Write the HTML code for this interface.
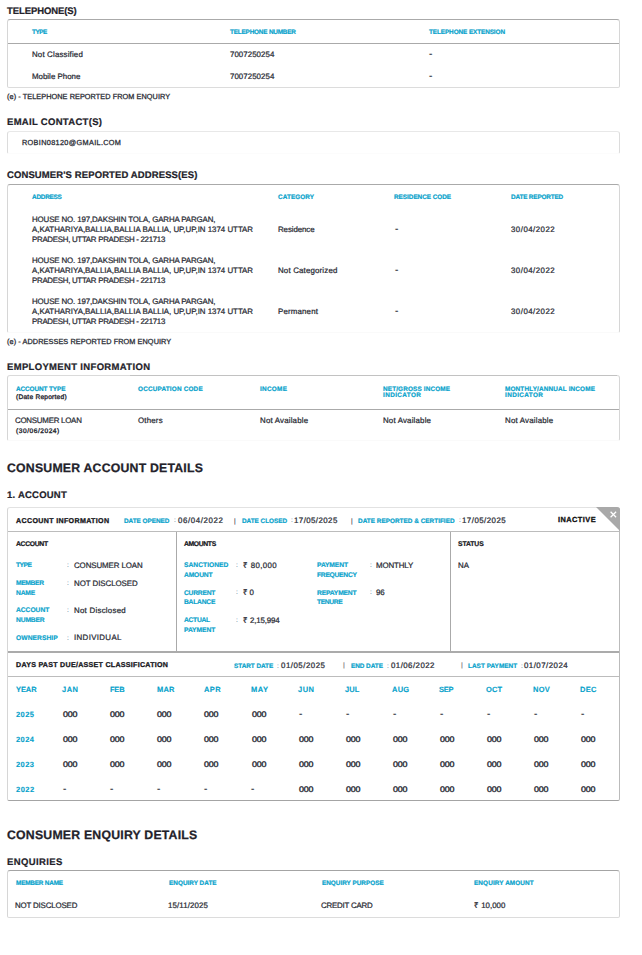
<!DOCTYPE html>
<html lang="en"><head><meta charset="utf-8"><title>Credit Report</title>
<style>
html,body{margin:0;padding:0;background:#fff}
body{width:642px;height:955px;position:relative;overflow:hidden;font-family:"Liberation Sans", sans-serif}
.t{position:absolute;white-space:pre;height:12px;line-height:12px;margin:0;transform:skewX(.04deg)}
.bx{position:absolute;box-sizing:border-box;border-radius:3px 3px 2px 2px;border:1px solid #d6d6d6}
.hl{position:absolute;height:1px}
.vl{position:absolute;width:1px}
.h1{font-size:12.3px;font-weight:700;color:#23222a;-webkit-text-stroke:0.25px #23222a}
.h2{font-size:9.5px;font-weight:700;color:#23222a;-webkit-text-stroke:0.22px #23222a}
.th{font-size:6.4px;font-weight:700;color:#07a2cb;-webkit-text-stroke:0.2px #07a2cb}
.td{font-size:7.9px;font-weight:400;color:#2a2c35;-webkit-text-stroke:0.24px #2a2c35}
.sm{font-size:6.6px;font-weight:400;color:#2a2c35;-webkit-text-stroke:0.35px #2a2c35}
.nt{font-size:7.3px;font-weight:400;color:#2a2c35;-webkit-text-stroke:0.28px #2a2c35}
.bk{font-size:7.1px;font-weight:700;color:#15151a;-webkit-text-stroke:0.28px #15151a}
.bs{font-size:6.8px;font-weight:700;color:#15151a;-webkit-text-stroke:0.22px #15151a}
.lb{font-size:6.7px;font-weight:700;color:#07a2cb;-webkit-text-stroke:0.18px #07a2cb}
.cl{font-size:6.6px;font-weight:400;color:#6f93a5;-webkit-text-stroke:0.12px #6f93a5}
.ds{font-size:10.0px;font-weight:700;color:#2a2c35}
.dt{font-size:10.0px;font-weight:400;color:#2a2c35;-webkit-text-stroke:0.2px #2a2c35}
.bg{font-size:6.5px;font-weight:700;color:#8c8c8c;-webkit-text-stroke:0.1px #8c8c8c}
.br{font-size:6.5px;font-weight:400;color:#333;-webkit-text-stroke:0.1px #333}
.mh{font-size:7.5px;font-weight:700;color:#07a2cb;-webkit-text-stroke:0.12px #07a2cb}
.gv{font-size:8.1px;font-weight:400;color:#2a2c35;-webkit-text-stroke:0.38px #2a2c35;transform-origin:0 50%;transform:skewX(.04deg) scaleX(1.1)}
.ia{font-size:7.4px;font-weight:700;color:#111;-webkit-text-stroke:0.3px #111}
</style></head><body>
<div class="bx" style="left:7px;top:19px;width:613px;height:69px;border-top-color:#aaa;border-bottom-color:#dcdcdc"></div>
<div class="hl" style="left:8px;top:43px;width:611px;background:#aaa"></div>
<div class="bx" style="left:7px;top:131px;width:613px;height:23px;border-color:#e8e8e8 #dcdcdc #fcfcfc #dcdcdc"></div>
<div class="bx" style="left:7px;top:184px;width:613px;height:149px;border-top-color:#aaa;border-bottom-color:#fafafa"></div>
<div class="bx" style="left:7px;top:375px;width:613px;height:66px;border-top-color:#dadada;border-bottom-color:#fafafa"></div>
<div class="hl" style="left:130px;top:375px;width:487px;background:#c2c2c2"></div>
<div class="hl" style="left:8px;top:409px;width:611px;background:#aaa"></div>
<div class="bx" style="left:7px;top:507px;width:613px;height:294px;border-top-color:#e2e2e2;border-bottom-color:#a4a4a4;border-right-color:#bbb"></div>
<div class="hl" style="left:8px;top:531px;width:611px;background:#bcbcbc"></div>
<div class="hl" style="left:8px;top:651px;width:611px;height:2px;background:#ababab"></div>
<div class="hl" style="left:8px;top:676px;width:611px;background:#bcbcbc"></div>
<div class="vl" style="left:176px;top:532px;height:119px;background:#aaa"></div>
<div class="vl" style="left:450px;top:532px;height:119px;background:#aaa"></div>
<svg style="position:absolute;left:596px;top:507px" width="24" height="24" viewBox="0 0 24 24"><path d="M0 0H21Q24 0 24 3V24Z" fill="#a9a9a9"/><path d="M14.6 4.8l5.5 5.5M20.1 4.8l-5.5 5.5" stroke="#fff" stroke-width="1.25" fill="none"/></svg>
<div class="bx" style="left:7px;top:870px;width:613px;height:48px;border-top-color:#a4a4a4;border-bottom-color:#dcdcdc"></div>
<span class="t h2" style="left:6.68px;top:5px;letter-spacing:-0.098px">TELEPHONE(S)</span>
<span class="t th" style="left:31.78px;top:26px;letter-spacing:-0.472px">TYPE</span>
<span class="t th" style="left:230.48px;top:26px;letter-spacing:-0.194px">TELEPHONE NUMBER</span>
<span class="t th" style="left:428.88px;top:26px;letter-spacing:-0.096px">TELEPHONE EXTENSION</span>
<span class="t td" style="left:31.69px;top:49px;letter-spacing:0.161px">Not Classified</span>
<span class="t td" style="left:230.09px;top:49px;letter-spacing:0.047px">7007250254</span>
<span class="t dt" style="left:429.46px;top:48px">-</span>
<span class="t td" style="left:31.69px;top:71px;letter-spacing:0.005px">Mobile Phone</span>
<span class="t td" style="left:230.09px;top:71px;letter-spacing:0.047px">7007250254</span>
<span class="t dt" style="left:429.46px;top:70px">-</span>
<span class="t nt" style="left:6.83px;top:91px;letter-spacing:0.071px">(e) - TELEPHONE REPORTED FROM ENQUIRY</span>
<span class="t h2" style="left:6.68px;top:116px;letter-spacing:0.304px">EMAIL CONTACT(S)</span>
<span class="t nt" style="left:21.93px;top:137px;letter-spacing:0.336px">ROBIN08120@GMAIL.COM</span>
<span class="t h2" style="left:6.68px;top:169px;letter-spacing:0.105px">CONSUMER&#x27;S REPORTED ADDRESS(ES)</span>
<span class="t th" style="left:31.98px;top:191px;letter-spacing:-0.231px">ADDRESS</span>
<span class="t th" style="left:277.68px;top:191px;letter-spacing:0.075px">CATEGORY</span>
<span class="t th" style="left:394.48px;top:191px;letter-spacing:-0.031px">RESIDENCE CODE</span>
<span class="t th" style="left:510.98px;top:191px;letter-spacing:-0.170px">DATE REPORTED</span>
<span class="t td" style="left:31.69px;top:214px;letter-spacing:-0.128px">HOUSE NO. 197,DAKSHIN TOLA, GARHA PARGAN,</span>
<span class="t td" style="left:31.69px;top:224px;letter-spacing:-0.011px">A,KATHARIYA,BALLIA,BALLIA BALLIA, UP,UP,IN 1374 UTTAR</span>
<span class="t td" style="left:31.69px;top:234px;letter-spacing:-0.286px">PRADESH, UTTAR PRADESH - 221713</span>
<span class="t td" style="left:277.59px;top:224px;letter-spacing:-0.090px">Residence</span>
<span class="t dt" style="left:394.86px;top:223px">-</span>
<span class="t td" style="left:510.89px;top:224px;letter-spacing:0.471px">30/04/2022</span>
<span class="t td" style="left:31.69px;top:255px;letter-spacing:-0.128px">HOUSE NO. 197,DAKSHIN TOLA, GARHA PARGAN,</span>
<span class="t td" style="left:31.69px;top:265px;letter-spacing:-0.011px">A,KATHARIYA,BALLIA,BALLIA BALLIA, UP,UP,IN 1374 UTTAR</span>
<span class="t td" style="left:31.69px;top:275px;letter-spacing:-0.286px">PRADESH, UTTAR PRADESH - 221713</span>
<span class="t td" style="left:277.59px;top:265px;letter-spacing:0.165px">Not Categorized</span>
<span class="t dt" style="left:394.86px;top:264px">-</span>
<span class="t td" style="left:510.89px;top:265px;letter-spacing:0.471px">30/04/2022</span>
<span class="t td" style="left:31.69px;top:296px;letter-spacing:-0.128px">HOUSE NO. 197,DAKSHIN TOLA, GARHA PARGAN,</span>
<span class="t td" style="left:31.69px;top:306px;letter-spacing:-0.011px">A,KATHARIYA,BALLIA,BALLIA BALLIA, UP,UP,IN 1374 UTTAR</span>
<span class="t td" style="left:31.69px;top:316px;letter-spacing:-0.286px">PRADESH, UTTAR PRADESH - 221713</span>
<span class="t td" style="left:277.59px;top:306px;letter-spacing:0.165px">Permanent</span>
<span class="t dt" style="left:394.86px;top:305px">-</span>
<span class="t td" style="left:510.89px;top:306px;letter-spacing:0.471px">30/04/2022</span>
<span class="t nt" style="left:6.83px;top:336px;letter-spacing:0.086px">(e) - ADDRESSES REPORTED FROM ENQUIRY</span>
<span class="t h2" style="left:6.68px;top:361px;letter-spacing:0.334px">EMPLOYMENT INFORMATION</span>
<span class="t th" style="left:15.58px;top:383px;letter-spacing:-0.092px">ACCOUNT TYPE</span>
<span class="t sm" style="left:15.57px;top:391px;letter-spacing:0.239px">(Date Reported)</span>
<span class="t th" style="left:137.78px;top:383px;letter-spacing:0.173px">OCCUPATION CODE</span>
<span class="t th" style="left:260.38px;top:383px;letter-spacing:0.286px">INCOME</span>
<span class="t th" style="left:382.68px;top:383px;letter-spacing:0.134px">NET/GROSS INCOME</span>
<span class="t th" style="left:382.68px;top:389px;letter-spacing:0.378px">INDICATOR</span>
<span class="t th" style="left:504.98px;top:383px;letter-spacing:0.147px">MONTHLY/ANNUAL INCOME</span>
<span class="t th" style="left:504.98px;top:389px;letter-spacing:0.378px">INDICATOR</span>
<span class="t td" style="left:15.49px;top:415px;letter-spacing:-0.240px">CONSUMER LOAN</span>
<span class="t sm" style="left:15.57px;top:425px;letter-spacing:0.532px">(30/06/2024)</span>
<span class="t td" style="left:137.69px;top:415px;letter-spacing:0.181px">Others</span>
<span class="t td" style="left:260.09px;top:415px;letter-spacing:0.178px">Not Available</span>
<span class="t td" style="left:382.59px;top:415px;letter-spacing:0.169px">Not Available</span>
<span class="t td" style="left:504.89px;top:415px;letter-spacing:0.186px">Not Available</span>
<span class="t h1" style="left:6.50px;top:462px;letter-spacing:0.201px">CONSUMER ACCOUNT DETAILS</span>
<span class="t h2" style="left:6.68px;top:489px;letter-spacing:0.222px">1. ACCOUNT</span>
<span class="t bk" style="left:15.54px;top:515px;letter-spacing:0.337px">ACCOUNT INFORMATION</span>
<span class="t th" style="left:124.48px;top:515px;letter-spacing:-0.022px">DATE OPENED</span>
<span class="t cl" style="left:173.87px;top:514px">:</span>
<span class="t td" style="left:177.59px;top:515px;letter-spacing:0.586px">06/04/2022</span>
<span class="t br" style="left:234.00px;top:515px">|</span>
<span class="t th" style="left:241.78px;top:515px;letter-spacing:-0.019px">DATE CLOSED</span>
<span class="t cl" style="left:291.07px;top:514px">:</span>
<span class="t td" style="left:294.39px;top:515px;letter-spacing:0.424px">17/05/2025</span>
<span class="t br" style="left:351.00px;top:515px">|</span>
<span class="t th" style="left:358.48px;top:515px;letter-spacing:0.019px">DATE REPORTED &amp; CERTIFIED</span>
<span class="t cl" style="left:459.27px;top:514px">:</span>
<span class="t td" style="left:462.49px;top:515px;letter-spacing:0.469px">17/05/2025</span>
<span class="t ia" style="left:557.90px;top:514px;letter-spacing:0.451px">INACTIVE</span>
<span class="t bs" style="left:15.56px;top:538px;letter-spacing:-0.318px">ACCOUNT</span>
<span class="t bs" style="left:184.46px;top:538px;letter-spacing:-0.363px">AMOUNTS</span>
<span class="t bs" style="left:458.46px;top:538px;letter-spacing:-0.094px">STATUS</span>
<span class="t lb" style="left:15.56px;top:559px;letter-spacing:-0.489px">TYPE</span>
<span class="t cl" style="left:67.47px;top:559px">:</span>
<span class="t td" style="left:74.09px;top:560px;letter-spacing:-0.082px">CONSUMER LOAN</span>
<span class="t lb" style="left:15.56px;top:577px;letter-spacing:-0.334px">MEMBER</span>
<span class="t lb" style="left:15.56px;top:587px;letter-spacing:-0.170px">NAME</span>
<span class="t cl" style="left:67.47px;top:577px">:</span>
<span class="t td" style="left:74.09px;top:578px;letter-spacing:-0.048px">NOT DISCLOSED</span>
<span class="t lb" style="left:15.56px;top:604px;letter-spacing:-0.028px">ACCOUNT</span>
<span class="t lb" style="left:15.56px;top:614px;letter-spacing:-0.137px">NUMBER</span>
<span class="t cl" style="left:67.47px;top:604px">:</span>
<span class="t td" style="left:74.09px;top:605px;letter-spacing:0.256px">Not Disclosed</span>
<span class="t lb" style="left:15.56px;top:632px;letter-spacing:0.063px">OWNERSHIP</span>
<span class="t cl" style="left:67.47px;top:632px">:</span>
<span class="t td" style="left:74.09px;top:632px;letter-spacing:0.347px">INDIVIDUAL</span>
<span class="t lb" style="left:184.46px;top:559px;letter-spacing:0.024px">SANCTIONED</span>
<span class="t lb" style="left:184.46px;top:569px;letter-spacing:-0.150px">AMOUNT</span>
<span class="t cl" style="left:236.27px;top:559px">:</span>
<span class="t td" style="left:242.69px;top:560px;letter-spacing:0.317px">₹ 80,000</span>
<span class="t lb" style="left:184.46px;top:587px;letter-spacing:-0.206px">CURRENT</span>
<span class="t lb" style="left:184.46px;top:596px;letter-spacing:-0.219px">BALANCE</span>
<span class="t cl" style="left:236.27px;top:586px">:</span>
<span class="t td" style="left:242.69px;top:587px;letter-spacing:-0.301px">₹ 0</span>
<span class="t lb" style="left:184.46px;top:614px;letter-spacing:-0.289px">ACTUAL</span>
<span class="t lb" style="left:184.46px;top:624px;letter-spacing:-0.039px">PAYMENT</span>
<span class="t cl" style="left:236.27px;top:614px">:</span>
<span class="t td" style="left:242.69px;top:615px;letter-spacing:-0.147px">₹ 2,15,994</span>
<span class="t lb" style="left:317.36px;top:559px;letter-spacing:-0.089px">PAYMENT</span>
<span class="t lb" style="left:317.36px;top:569px;letter-spacing:-0.257px">FREQUENCY</span>
<span class="t cl" style="left:369.67px;top:559px">:</span>
<span class="t td" style="left:375.79px;top:560px;letter-spacing:-0.127px">MONTHLY</span>
<span class="t lb" style="left:317.36px;top:587px;letter-spacing:-0.159px">REPAYMENT</span>
<span class="t lb" style="left:317.36px;top:596px;letter-spacing:-0.374px">TENURE</span>
<span class="t cl" style="left:369.67px;top:586px">:</span>
<span class="t td" style="left:375.79px;top:587px;letter-spacing:-0.188px">96</span>
<span class="t td" style="left:458.39px;top:560px">NA</span>
<span class="t bk" style="left:15.54px;top:659px;letter-spacing:0.273px">DAYS PAST DUE/ASSET CLASSIFICATION</span>
<span class="t th" style="left:233.98px;top:660px;letter-spacing:-0.030px">START DATE</span>
<span class="t cl" style="left:276.97px;top:660px">:</span>
<span class="t td" style="left:281.09px;top:660px;letter-spacing:0.493px">01/05/2025</span>
<span class="t bg" style="left:343.40px;top:659px">|</span>
<span class="t th" style="left:350.98px;top:660px;letter-spacing:-0.038px">END DATE</span>
<span class="t cl" style="left:386.97px;top:660px">:</span>
<span class="t td" style="left:390.89px;top:660px;letter-spacing:0.437px">01/06/2022</span>
<span class="t bg" style="left:460.50px;top:659px">|</span>
<span class="t th" style="left:468.08px;top:660px;letter-spacing:0.048px">LAST PAYMENT</span>
<span class="t cl" style="left:520.87px;top:660px">:</span>
<span class="t td" style="left:524.49px;top:660px;letter-spacing:0.465px">01/07/2024</span>
<span class="t mh" style="left:15.71px;top:684px;letter-spacing:-0.083px">YEAR</span>
<span class="t mh" style="left:62.31px;top:684px;letter-spacing:0.500px">JAN</span>
<span class="t mh" style="left:109.51px;top:684px;letter-spacing:-0.214px">FEB</span>
<span class="t mh" style="left:156.61px;top:684px;letter-spacing:0.213px">MAR</span>
<span class="t mh" style="left:203.51px;top:684px;letter-spacing:0.358px">APR</span>
<span class="t mh" style="left:250.71px;top:684px;letter-spacing:0.500px">MAY</span>
<span class="t mh" style="left:297.91px;top:684px;letter-spacing:0.500px">JUN</span>
<span class="t mh" style="left:344.91px;top:684px;letter-spacing:0.066px">JUL</span>
<span class="t mh" style="left:391.91px;top:684px;letter-spacing:0.208px">AUG</span>
<span class="t mh" style="left:439.31px;top:684px;letter-spacing:-0.215px">SEP</span>
<span class="t mh" style="left:486.31px;top:684px;letter-spacing:0.176px">OCT</span>
<span class="t mh" style="left:533.31px;top:684px;letter-spacing:0.282px">NOV</span>
<span class="t mh" style="left:580.21px;top:684px;letter-spacing:0.260px">DEC</span>
<span class="t mh" style="left:15.71px;top:709px;letter-spacing:0.435px">2025</span>
<span class="t gv" style="left:63.14px;top:709px;letter-spacing:-0.176px">000</span>
<span class="t gv" style="left:110.34px;top:709px;letter-spacing:-0.176px">000</span>
<span class="t gv" style="left:157.44px;top:709px;letter-spacing:-0.176px">000</span>
<span class="t gv" style="left:204.34px;top:709px;letter-spacing:-0.176px">000</span>
<span class="t gv" style="left:251.54px;top:709px;letter-spacing:-0.176px">000</span>
<span class="t dt" style="left:298.66px;top:708px">-</span>
<span class="t dt" style="left:345.66px;top:708px">-</span>
<span class="t dt" style="left:392.66px;top:708px">-</span>
<span class="t dt" style="left:440.06px;top:708px">-</span>
<span class="t dt" style="left:487.06px;top:708px">-</span>
<span class="t dt" style="left:534.06px;top:708px">-</span>
<span class="t dt" style="left:580.96px;top:708px">-</span>
<span class="t mh" style="left:15.71px;top:734px;letter-spacing:0.429px">2024</span>
<span class="t gv" style="left:63.14px;top:734px;letter-spacing:-0.176px">000</span>
<span class="t gv" style="left:110.34px;top:734px;letter-spacing:-0.176px">000</span>
<span class="t gv" style="left:157.44px;top:734px;letter-spacing:-0.176px">000</span>
<span class="t gv" style="left:204.34px;top:734px;letter-spacing:-0.176px">000</span>
<span class="t gv" style="left:251.54px;top:734px;letter-spacing:-0.176px">000</span>
<span class="t gv" style="left:298.74px;top:734px;letter-spacing:-0.176px">000</span>
<span class="t gv" style="left:345.74px;top:734px;letter-spacing:-0.176px">000</span>
<span class="t gv" style="left:392.74px;top:734px;letter-spacing:-0.176px">000</span>
<span class="t gv" style="left:440.14px;top:734px;letter-spacing:-0.176px">000</span>
<span class="t gv" style="left:487.14px;top:734px;letter-spacing:-0.176px">000</span>
<span class="t gv" style="left:534.14px;top:734px;letter-spacing:-0.176px">000</span>
<span class="t gv" style="left:581.04px;top:734px;letter-spacing:-0.176px">000</span>
<span class="t mh" style="left:15.71px;top:759px;letter-spacing:0.446px">2023</span>
<span class="t gv" style="left:63.14px;top:759px;letter-spacing:-0.176px">000</span>
<span class="t gv" style="left:110.34px;top:759px;letter-spacing:-0.176px">000</span>
<span class="t gv" style="left:157.44px;top:759px;letter-spacing:-0.176px">000</span>
<span class="t gv" style="left:204.34px;top:759px;letter-spacing:-0.176px">000</span>
<span class="t gv" style="left:251.54px;top:759px;letter-spacing:-0.176px">000</span>
<span class="t gv" style="left:298.74px;top:759px;letter-spacing:-0.176px">000</span>
<span class="t gv" style="left:345.74px;top:759px;letter-spacing:-0.176px">000</span>
<span class="t gv" style="left:392.74px;top:759px;letter-spacing:-0.176px">000</span>
<span class="t gv" style="left:440.14px;top:759px;letter-spacing:-0.176px">000</span>
<span class="t gv" style="left:487.14px;top:759px;letter-spacing:-0.176px">000</span>
<span class="t gv" style="left:534.14px;top:759px;letter-spacing:-0.176px">000</span>
<span class="t gv" style="left:581.04px;top:759px;letter-spacing:-0.176px">000</span>
<span class="t mh" style="left:15.71px;top:784px;letter-spacing:0.475px">2022</span>
<span class="t dt" style="left:63.06px;top:783px">-</span>
<span class="t dt" style="left:110.26px;top:783px">-</span>
<span class="t dt" style="left:157.36px;top:783px">-</span>
<span class="t dt" style="left:204.26px;top:783px">-</span>
<span class="t dt" style="left:251.46px;top:783px">-</span>
<span class="t gv" style="left:298.74px;top:784px;letter-spacing:-0.176px">000</span>
<span class="t gv" style="left:345.74px;top:784px;letter-spacing:-0.176px">000</span>
<span class="t gv" style="left:392.74px;top:784px;letter-spacing:-0.176px">000</span>
<span class="t gv" style="left:440.14px;top:784px;letter-spacing:-0.176px">000</span>
<span class="t gv" style="left:487.14px;top:784px;letter-spacing:-0.176px">000</span>
<span class="t gv" style="left:534.14px;top:784px;letter-spacing:-0.176px">000</span>
<span class="t gv" style="left:581.04px;top:784px;letter-spacing:-0.176px">000</span>
<span class="t h1" style="left:6.50px;top:829px;letter-spacing:0.201px">CONSUMER ENQUIRY DETAILS</span>
<span class="t h2" style="left:6.68px;top:856px;letter-spacing:0.397px">ENQUIRIES</span>
<span class="t th" style="left:15.58px;top:877px;letter-spacing:-0.196px">MEMBER NAME</span>
<span class="t th" style="left:168.58px;top:877px;letter-spacing:0.009px">ENQUIRY DATE</span>
<span class="t th" style="left:321.58px;top:877px;letter-spacing:-0.007px">ENQUIRY PURPOSE</span>
<span class="t th" style="left:474.18px;top:877px;letter-spacing:0.105px">ENQUIRY AMOUNT</span>
<span class="t td" style="left:15.49px;top:900px;letter-spacing:-0.164px">NOT DISCLOSED</span>
<span class="t td" style="left:168.49px;top:900px;letter-spacing:0.108px">15/11/2025</span>
<span class="t td" style="left:321.49px;top:900px;letter-spacing:-0.201px">CREDIT CARD</span>
<span class="t td" style="left:474.09px;top:900px">₹ 10,000</span>
</body></html>
